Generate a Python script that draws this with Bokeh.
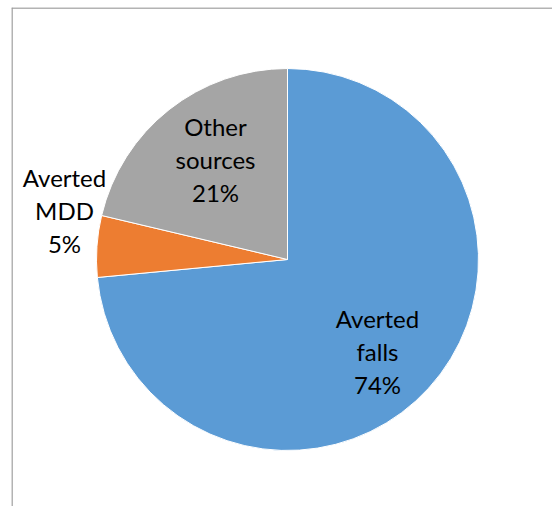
import math
from bokeh.plotting import figure
from bokeh.models import Range1d, ColumnDataSource, Span
from bokeh.core.properties import value
from bokeh.embed import file_html
from bokeh.resources import INLINE

# ---- data ----
categories = ["Averted falls", "Averted MDD", "Other sources"]
shares = [73.5, 5.2, 21.3]
pct_labels = ["74%", "5%", "21%"]
colors = ["#5B9BD5", "#ED7D31", "#A5A5A5"]

# ---- layout (screen-like units) ----
W, H = 552, 506
LEFT, TOP = 11, 7
CX, CY, R = 287, 506 - 259, 191
label_pos = [(377, 506 - 351), (64, 506 - 210), (215, 506 - 159)]

total = sum(shares)
starts, ends = [], []
acc = 0.0
for s in shares:
    a0 = math.pi / 2 - 2 * math.pi * acc / total
    acc += s
    a1 = math.pi / 2 - 2 * math.pi * acc / total
    starts.append(a0)
    ends.append(a1)

src = ColumnDataSource(dict(
    cat=categories, start=starts, end=ends, color=colors,
    x=[CX] * 3, y=[CY] * 3,
))

p = figure(width=W, height=H, output_backend="svg", toolbar_location=None,
           x_range=Range1d(LEFT, W), y_range=Range1d(0, H - TOP),
           min_border_left=LEFT, min_border_top=TOP,
           min_border_right=0, min_border_bottom=0)
p.axis.visible = False
p.grid.visible = False
p.outline_line_color = None
p.background_fill_color = "white"
p.border_fill_color = "white"

p.add_layout(Span(location=LEFT + 0.5, dimension="height",
                  line_color="#9A9A9A", line_width=1.5))
p.add_layout(Span(location=H - TOP - 0.5, dimension="width",
                  line_color="#9A9A9A", line_width=1.5))

p.wedge(x="x", y="y", radius=R, start_angle="start", end_angle="end",
        direction="clock", fill_color="color", line_color="white",
        line_width=1, source=src)

texts = []
for cat, pl in zip(categories, pct_labels):
    words = cat.split(" ")
    texts.append("\n".join(words + [pl]))

lsrc = ColumnDataSource(dict(
    x=[lp[0] for lp in label_pos], y=[lp[1] for lp in label_pos], text=texts))
p.text(x="x", y="y", text="text", source=lsrc, text_align="center",
       text_baseline="middle", text_font=value("Lato"),
       text_font_size="24px", text_color="#000000", text_line_height=1.13)

open("out.html", "w").write(file_html(p, INLINE))
